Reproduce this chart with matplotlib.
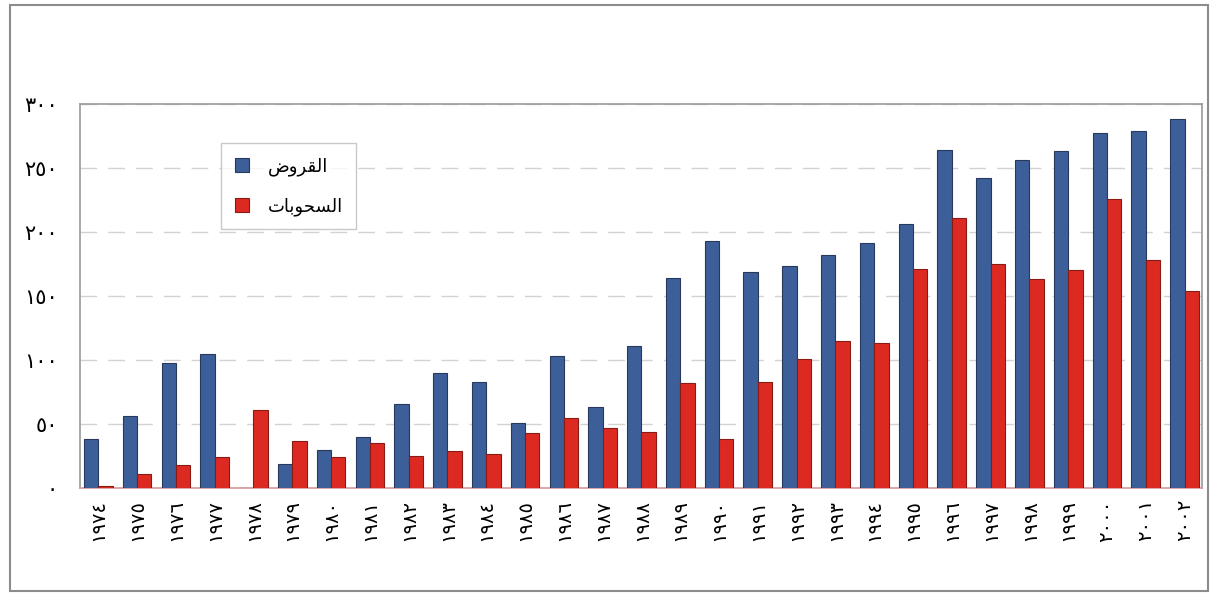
import numpy as np
import matplotlib
matplotlib.use("Agg")
from matplotlib import pyplot as plt
from matplotlib.patches import Rectangle

# Arabic-Indic digits for tick labels
AR_DIGITS = str.maketrans("0123456789", "٠١٢٣٤٥٦٧٨٩")

years = list(range(1974, 2003))
loans = [38, 56, 98, 105, 0, 19, 30, 40, 66, 90,
         83, 51, 103, 63, 111, 164, 193, 169, 173, 182,
         191, 206, 264, 242, 256, 263, 277, 279, 288]
drawings = [2, 11, 18, 24, 61, 37, 24, 35, 25, 29,
            27, 43, 55, 47, 44, 82, 38, 83, 101, 115,
            113, 171, 211, 175, 163, 170, 226, 178, 154]
y_ticks = [0, 50, 100, 150, 200, 250, 300]

# legend names, written in presentation forms in visual order
# (matplotlib has no Arabic shaping): القروض / السحوبات
label_loans = "\ufebd\ufeed\ufeae\ufed8\ufedf\ufe8d"
label_drawings = "\ufe95\ufe8e\ufe91\ufeee\ufea4\ufeb4\ufedf\ufe8d"

blue = "#3d5f99"
red = "#dc2a22"


def main():
    plt.rcParams['font.family'] = ['DejaVu Sans']
    fig = plt.figure(figsize=(12.13, 5.96), dpi=100)
    ax = fig.add_axes([0.066, 0.181, 0.925, 0.645])

    x = np.arange(len(years))
    w = 0.37
    ax.bar(x - w / 2, loans, width=w, color=blue, edgecolor="#27395c",
           linewidth=0.8, label=label_loans, zorder=3)
    ax.bar(x + w / 2, drawings, width=w, color=red, edgecolor="#8a1a14",
           linewidth=0.8, label=label_drawings, zorder=3)

    ax.set_xlim(-0.47, len(years) - 1 + 0.45)
    ax.set_ylim(0, 300)
    ax.set_yticks(y_ticks)
    ax.set_yticklabels([str(v).translate(AR_DIGITS) for v in y_ticks], fontsize=15)
    ax.set_xticks(x)
    ax.set_xticklabels([str(y).translate(AR_DIGITS) for y in years],
                       rotation=90, fontsize=14)
    ax.tick_params(axis='both', length=0)
    ax.tick_params(axis='y', pad=16)
    ax.tick_params(axis='x', pad=8)

    ax.yaxis.grid(True, color="#d2d2d2", linestyle=(0, (12, 8)), linewidth=1.0, zorder=0)
    for s in ax.spines.values():
        s.set_color("#9a9a9a")
        s.set_linewidth(1.2)
    ax.spines['bottom'].set_color("#d89a9a")

    leg = ax.legend(loc="upper left", bbox_to_anchor=(0.118, 0.92), fontsize=13,
                    frameon=True, fancybox=False, edgecolor="#bcbcbc",
                    handlelength=0.8, handleheight=0.8, labelspacing=1.2,
                    borderpad=0.75, handletextpad=1.0)
    leg.get_frame().set_linewidth(1.0)

    # outer chart border
    fig.patches.append(Rectangle((0.008, 0.008), 0.988, 0.983, transform=fig.transFigure,
                                 fill=False, edgecolor="#8c8c8c", linewidth=1.5))

    fig.savefig("out.png", dpi=100)


if __name__ == '__main__':
    main()
